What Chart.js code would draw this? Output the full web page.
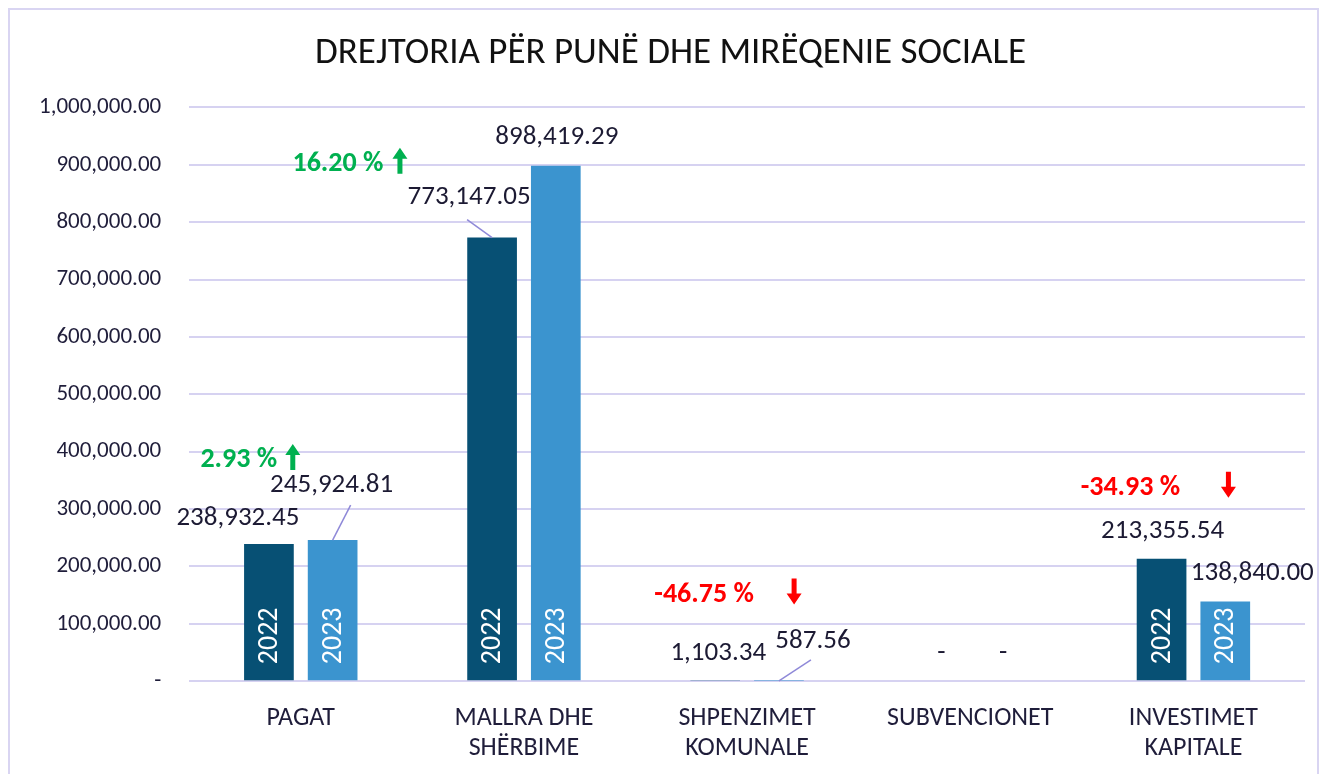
<!DOCTYPE html>
<html>
<head>
<meta charset="utf-8">
<script src="https://cdn.jsdelivr.net/npm/chart.js@4"></script>
<style>
  html, body { margin: 0; padding: 0; background: #fff; }
  #wrap { position: relative; width: 1323px; height: 774px; overflow: hidden; }
  #frame { position: absolute; left: 8px; top: 8px; width: 1311px; height: 780px; border: 2px solid #d9d5f2; box-sizing: border-box; }
  canvas { position: absolute; left: 0; top: 0; }
</style>
</head>
<body>
<div id="wrap">
  <div id="frame"></div>
  <canvas id="chart" width="1323" height="777"></canvas>
</div>
<script>
// chart data
const categories = [['PAGAT'], ['MALLRA DHE', 'SHËRBIME'], ['SHPENZIMET', 'KOMUNALE'], ['SUBVENCIONET'], ['INVESTIMET', 'KAPITALE']];
const seriesNames = ['2022', '2023'];
const values2022 = [238932.45, 773147.05, 1103.34, 0, 213355.54];
const values2023 = [245924.81, 898419.29, 587.56, 0, 138840.00];
const changeLabels = ['2.93 %', '16.20 %', '-46.75 %', null, '-34.93 %'];
const changeUp = [true, true, false, null, false];

const FONT = "Carlito, Calibri, Lato, sans-serif";
const colors = ['#075074', '#3b94cf'];

// label placement (pixels from bar top) - layout only
const labelOffsets = [
  [[-31, -26], [-23, -40], [3, -27], [3, -28], [1, -28]],
  [[-1, -55], [1, -28], [34, -40], [1, -28], [27, -28]]
];
const leaderLines = [
  [null, [-25, -18], null, null, null],
  [[18, -35], null, [32, -21], null, null]
];
// percent annotation placement relative to category centre / top of highest bar
const noteOffsets = [[-62, -80, -8], [-186, -2, -124], [-43, -86, 47], null, [-63, -71, 35]];

function fmt(v) {
  if (v === 0) return '-';
  return v.toLocaleString('en-US', { minimumFractionDigits: 2, maximumFractionDigits: 2 });
}

function drawArrow(ctx, x, y, up, color) {
  const h = 26, headH = 11, headW = 15, shaft = 5;
  ctx.save();
  ctx.fillStyle = color;
  ctx.beginPath();
  if (up) {
    const top = y - h / 2;
    ctx.moveTo(x, top);
    ctx.lineTo(x + headW / 2, top + headH);
    ctx.lineTo(x + shaft / 2, top + headH);
    ctx.lineTo(x + shaft / 2, top + h);
    ctx.lineTo(x - shaft / 2, top + h);
    ctx.lineTo(x - shaft / 2, top + headH);
    ctx.lineTo(x - headW / 2, top + headH);
  } else {
    const bot = y + h / 2;
    ctx.moveTo(x, bot);
    ctx.lineTo(x + headW / 2, bot - headH);
    ctx.lineTo(x + shaft / 2, bot - headH);
    ctx.lineTo(x + shaft / 2, bot - h);
    ctx.lineTo(x - shaft / 2, bot - h);
    ctx.lineTo(x - shaft / 2, bot - headH);
    ctx.lineTo(x - headW / 2, bot - headH);
  }
  ctx.closePath();
  ctx.fill();
  ctx.restore();
}

const labelsPlugin = {
  id: 'barLabels',
  afterDatasetsDraw(chart) {
    const ctx = chart.ctx;
    const xScale = chart.scales.x;
    chart.data.datasets.forEach((ds, di) => {
      const meta = chart.getDatasetMeta(di);
      meta.data.forEach((bar, i) => {
        const v = ds.data[i];
        // year text inside bar
        if (bar.base - bar.y > 70) {
          ctx.save();
          ctx.translate(bar.x, bar.base - 16);
          ctx.rotate(-Math.PI / 2);
          ctx.fillStyle = '#ffffff';
          ctx.font = '28px ' + FONT;
          ctx.textAlign = 'left';
          ctx.textBaseline = 'middle';
          ctx.fillText(ds.label, 0, 1);
          ctx.restore();
        }
        const off = labelOffsets[di][i];
        const lx = bar.x + off[0], ly = bar.y + off[1];
        const ll = leaderLines[di][i];
        if (ll) {
          ctx.save();
          ctx.strokeStyle = '#8f89d8';
          ctx.lineWidth = 1.5;
          ctx.beginPath();
          ctx.moveTo(bar.x, bar.y);
          ctx.lineTo(bar.x + ll[0], bar.y + ll[1]);
          ctx.stroke();
          ctx.restore();
        }
        ctx.save();
        ctx.fillStyle = '#1c1a33';
        ctx.font = '27px ' + FONT;
        ctx.textAlign = 'center';
        ctx.textBaseline = 'middle';
        ctx.fillText(fmt(v), lx, ly);
        ctx.restore();
      });
    });
    // percent change notes
    changeLabels.forEach((txt, i) => {
      if (!txt) return;
      const cx = xScale.getPixelForValue(i);
      const topY = Math.min(chart.getDatasetMeta(0).data[i].y, chart.getDatasetMeta(1).data[i].y);
      const o = noteOffsets[i];
      const color = changeUp[i] ? '#00b050' : '#ff0000';
      ctx.save();
      ctx.fillStyle = color;
      ctx.font = 'bold 28px ' + FONT;
      ctx.textAlign = 'center';
      ctx.textBaseline = 'middle';
      ctx.fillText(txt, cx + o[0], topY + o[1]);
      ctx.restore();
      drawArrow(ctx, cx + o[2], topY + o[1] - 3, changeUp[i], color);
    });
  }
};

new Chart(document.getElementById('chart'), {
  type: 'bar',
  data: {
    labels: categories,
    datasets: [
      { label: seriesNames[0], data: values2022, backgroundColor: colors[0] },
      { label: seriesNames[1], data: values2023, backgroundColor: colors[1] }
    ]
  },
  options: {
    responsive: false,
    animation: false,
    devicePixelRatio: 1,
    categoryPercentage: 0.571,
    barPercentage: 0.78,
    layout: { padding: { left: 11, right: 18, top: 20, bottom: 0 } },
    plugins: {
      legend: { display: false },
      tooltip: { enabled: false },
      title: {
        display: true,
        text: '   DREJTORIA PËR PUNË DHE MIRËQENIE SOCIALE',
        color: '#111111',
        font: { family: FONT, size: 37, weight: 'normal' },
        padding: { top: 12, bottom: 31 }
      }
    },
    scales: {
      x: {
        grid: { display: false },
        border: { display: false },
        ticks: { color: '#1f1d3a', font: { family: FONT, size: 26, lineHeight: 1.15 }, padding: 14, maxRotation: 0 }
      },
      y: {
        min: 0,
        max: 1000000,
        border: { display: false },
        grid: { color: '#d6d2f1', lineWidth: 2, drawTicks: false },
        ticks: {
          stepSize: 100000,
          color: '#1f1d3a',
          font: { family: FONT, size: 23 },
          padding: 28,
          callback: v => fmt(v)
        }
      }
    }
  },
  plugins: [labelsPlugin]
});
</script>
</body>
</html>
